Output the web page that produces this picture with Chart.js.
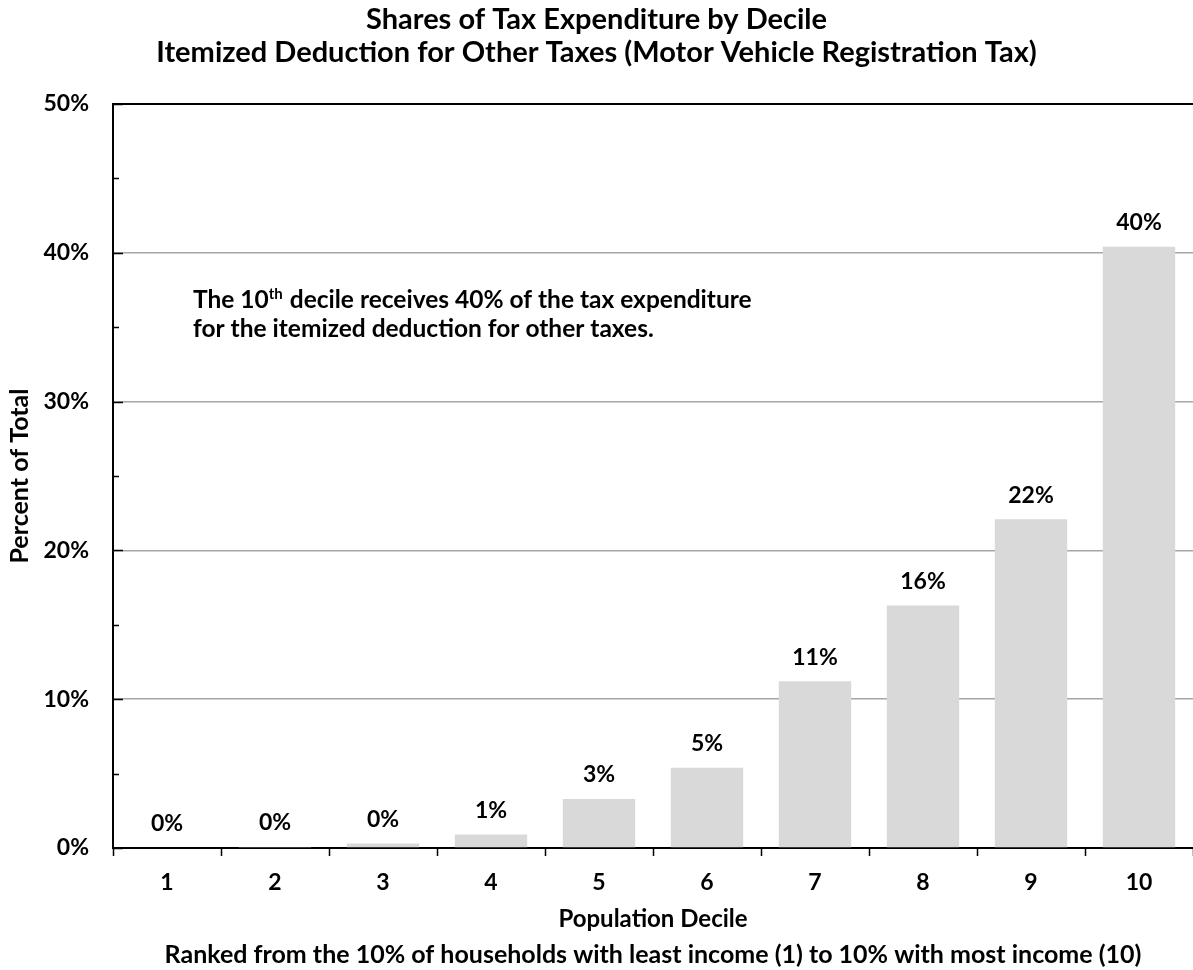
<!DOCTYPE html>
<html>
<head>
<meta charset="utf-8">
<script src="https://cdn.jsdelivr.net/npm/chart.js@4.4.1/dist/chart.umd.min.js"></script>
<style>
  html, body { margin: 0; padding: 0; background: #fff; }
  #wrap { width: 1193px; height: 970px; }
</style>
</head>
<body>
<div id="wrap"><canvas id="chart"></canvas></div>
<script>
// Data
const deciles = ['1', '2', '3', '4', '5', '6', '7', '8', '9', '10'];
const shares = [0.05, 0.07, 0.3, 0.9, 3.3, 5.4, 11.2, 16.3, 22.1, 40.4];
const shareLabels = ['0%', '0%', '0%', '1%', '3%', '5%', '11%', '16%', '22%', '40%'];
const titleLines = [
    'Shares of Tax Expenditure by Decile',
    'Itemized Deduction for Other Taxes (Motor Vehicle Registration Tax)'
];
const xTitleLines = [
    'Population Decile',
    'Ranked from the 10% of households with least income (1) to 10% with most income (10)'
];
const yTitle = 'Percent of Total';
const FONT = 'Lato, "Open Sans", sans-serif';

// Draws tick marks, category labels, value labels, the note and the x titles
const extrasPlugin = {
    id: 'extras',
    afterDatasetsDraw(chart) {
        const { ctx, chartArea, scales } = chart;
        const x = scales.x, y = scales.y;
        ctx.save();

        // y tick marks, pointing inward
        ctx.strokeStyle = '#000';
        ctx.lineWidth = 1.5;
        for (let v = 0; v <= 50; v += 5) {
            const py = Math.round(y.getPixelForValue(v)) + 0.5;
            const len = v % 10 === 0 ? 10 : 6;
            ctx.beginPath();
            ctx.moveTo(chartArea.left, py);
            ctx.lineTo(chartArea.left + len, py);
            ctx.stroke();
        }

        // x tick marks at category boundaries, pointing down
        for (let i = 0; i <= deciles.length; i++) {
            let px;
            if (i === 0) px = chartArea.left;
            else if (i === deciles.length) px = chartArea.right;
            else px = (x.getPixelForValue(i - 1) + x.getPixelForValue(i)) / 2;
            px = Math.round(px) + 0.5;
            ctx.beginPath();
            ctx.moveTo(px, chartArea.bottom);
            ctx.lineTo(px, chartArea.bottom + 8);
            ctx.stroke();
        }

        ctx.fillStyle = '#000';
        ctx.textAlign = 'center';
        ctx.textBaseline = 'middle';

        // category labels
        ctx.font = 'bold 23px ' + FONT;
        deciles.forEach((d, i) => {
            ctx.fillText(d, x.getPixelForValue(i), chartArea.bottom + 35);
        });

        // value labels above bars
        chart.getDatasetMeta(0).data.forEach((bar, i) => {
            ctx.fillText(shareLabels[i], bar.x, bar.y - 24);
        });

        // note with superscript
        ctx.textAlign = 'left';
        ctx.textBaseline = 'alphabetic';
        let nx = 193;
        const base1 = 308, base2 = 337;
        ctx.font = 'bold 24.5px ' + FONT;
        ctx.fillText('The 10', nx, base1);
        nx += ctx.measureText('The 10').width;
        ctx.font = 'bold 15px ' + FONT;
        ctx.fillText('th', nx, base1 - 9);
        nx += ctx.measureText('th').width + 1;
        ctx.font = 'bold 24.5px ' + FONT;
        ctx.fillText(' decile receives 40% of the tax expenditure', nx, base1);
        ctx.fillText('for the itemized deduction for other taxes.', 193, base2);

        // x axis titles
        ctx.textAlign = 'center';
        ctx.textBaseline = 'middle';
        const cx = (chartArea.left + chartArea.right) / 2;
        ctx.font = 'bold 24px ' + FONT;
        ctx.fillText(xTitleLines[0], cx, 919);
        ctx.font = 'bold 25px ' + FONT;
        ctx.fillText(xTitleLines[1], cx, 955);

        ctx.restore();
    }
};

new Chart(document.getElementById('chart'), {
    type: 'bar',
    data: {
        labels: deciles,
        datasets: [{
            data: shares,
            backgroundColor: '#d9d9d9',
            borderWidth: 0,
            barPercentage: 0.67,
            categoryPercentage: 1.0
        }]
    },
    options: {
        responsive: true,
        maintainAspectRatio: false,
        animation: false,
        layout: { padding: { left: 0, right: 0, top: 0, bottom: 0 } },
        plugins: {
            legend: { display: false },
            tooltip: { enabled: false },
            title: {
                display: true,
                text: titleLines,
                color: '#000',
                font: { family: FONT, size: 29, weight: 'bold', lineHeight: 1.14 },
                padding: { top: 3.5, bottom: 34.4 }
            }
        },
        scales: {
            x: {
                grid: { display: false },
                border: { display: true, color: '#000', width: 2 },
                ticks: { display: false },
                afterFit(scale) { scale.height = 122; }
            },
            y: {
                min: 0,
                max: 50,
                ticks: {
                    stepSize: 10,
                    color: '#000',
                    font: { family: FONT, size: 23, weight: 'bold' },
                    padding: 24,
                    callback: v => v + '%'
                },
                grid: {
                    drawTicks: false,
                    color: c => c.tick.value === 50 ? '#000' : (c.tick.value === 0 ? 'rgba(0,0,0,0)' : '#a6a6a6'),
                    lineWidth: c => c.tick.value === 50 ? 2 : 1.5
                },
                border: { display: true, color: '#000', width: 2 },
                title: {
                    display: true,
                    text: yTitle,
                    color: '#000',
                    font: { family: FONT, size: 25, weight: 'bold' },
                    padding: { top: 5, bottom: 0 }
                },
                afterFit(scale) { scale.width = 113; }
            }
        }
    },
    plugins: [extrasPlugin]
});
</script>
</body>
</html>
